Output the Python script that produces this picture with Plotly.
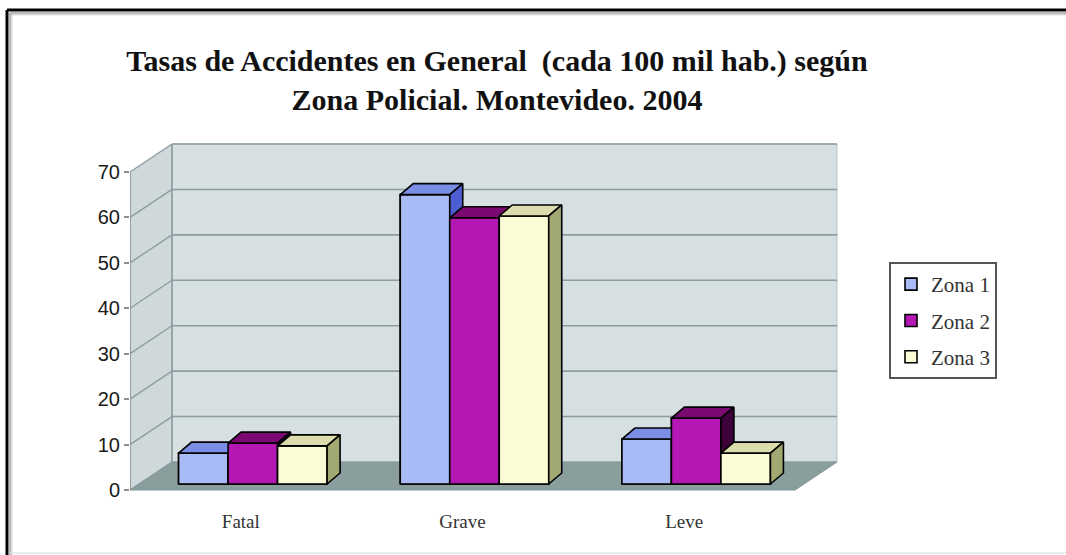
import plotly.graph_objects as go

# ---------------- data ----------------
CATEGORIES = ["Fatal", "Grave", "Leve"]
SERIES = ["Zona 1", "Zona 2", "Zona 3"]
ZONA_1 = [6.8, 63.7, 9.9]
ZONA_2 = [9.0, 58.6, 14.5]
ZONA_3 = [8.4, 59.0, 6.8]
Y_TICKS = [0, 10, 20, 30, 40, 50, 60, 70]
TITLE = "Tasas de Accidentes en General  (cada 100 mil hab.) según<br>Zona Policial. Montevideo. 2004"

VALUES = [ZONA_1, ZONA_2, ZONA_3]

# ---------------- style ----------------
W, H = 1066, 555
FRONT = ["#a9bbf6", "#b417b4", "#fbfbd6"]
TOP = ["#7a8ee6", "#7a0a72", "#dcdcac"]
SIDE = ["#4c5ed2", "#3e0038", "#a2a872"]

AX_LEFT, AX_RIGHT, AX_TOP, AX_BOTTOM = 130, 840, 138, 500   # pixel box of the axes
Y0_PX = 490                      # pixel row of value 0 on the front plane
PX_PER_V = 318.0 / 70.0          # pixels per value unit
PX_PER_U = 665.0 / 3.0           # pixels per category

FDX, FDY = 42 / PX_PER_U, 28 / PX_PER_V          # depth of floor / walls
BAR_OFF = 12 / PX_PER_U                            # bar group offset (depth)
BAR_BASE = 6 / PX_PER_V
BAR_W = 49.5 / PX_PER_U
BDX, BDY = 13 / PX_PER_U, 11 / PX_PER_V           # depth of each bar

x_range = [(AX_LEFT - 130) / PX_PER_U, (AX_RIGHT - 130) / PX_PER_U]
y_range = [(Y0_PX - AX_BOTTOM) / PX_PER_V, (Y0_PX - AX_TOP) / PX_PER_V]
N = len(CATEGORIES)
VMAX = Y_TICKS[-1]


def px(x):
    return x / W


def py(y):
    return (H - y) / H


def path(pts):
    return "M " + " L ".join(f"{a},{b}" for a, b in pts) + " Z"


fig = go.Figure()

# real bar traces (front faces, also used for the legend)
for j, name in enumerate(SERIES):
    fig.add_trace(go.Bar(
        x=[i + 0.5 + BAR_OFF for i in range(N)],
        y=VALUES[j],
        base=BAR_BASE,
        width=BAR_W,
        offset=(j - 1.5) * BAR_W,
        name=name,
        legendgroup=name,
        marker=dict(color=FRONT[j], line=dict(color="#000000", width=1.6)),
    ))

# 3-D faces drawn in painter's order
for i in range(N):
    for j in range(len(SERIES)):
        v = VALUES[j][i]
        L = i + 0.5 + BAR_OFF + (j - 1.5) * BAR_W
        R = L + BAR_W
        b = BAR_BASE
        t = BAR_BASE + v
        faces = [
            ([L, R, R, L, L], [b, b, t, t, b], FRONT[j]),
            ([L, R, R + BDX, L + BDX, L], [t, t, t + BDY, t + BDY, t], TOP[j]),
            ([R, R + BDX, R + BDX, R, R], [b, b + BDY, t + BDY, t, b], SIDE[j]),
        ]
        for xs, ys, col in faces:
            fig.add_trace(go.Scatter(
                x=xs, y=ys, mode="lines", fill="toself", fillcolor=col,
                line=dict(color="#000000", width=1.6),
                showlegend=False, hoverinfo="skip",
            ))

shapes = []
# side wall, back wall, floor
shapes.append(dict(type="path", xref="x", yref="y", layer="below",
                   path=path([(0, 0), (FDX, FDY), (FDX, VMAX + FDY), (0, VMAX)]),
                   fillcolor="#cfd9db", line=dict(width=0)))
shapes.append(dict(type="path", xref="x", yref="y", layer="below",
                   path=path([(FDX, FDY), (N + FDX, FDY), (N + FDX, VMAX + FDY), (FDX, VMAX + FDY)]),
                   fillcolor="#d6dfe1", line=dict(color="#b8c2c4", width=1)))
shapes.append(dict(type="path", xref="x", yref="y", layer="below",
                   path=path([(0, 0), (N, 0), (N + FDX, FDY), (FDX, FDY)]),
                   fillcolor="#8a9e9e", line=dict(color="#7f9495", width=1)))
# gridlines
GRID = "#8d9c9e"
for v in Y_TICKS[1:]:
    shapes.append(dict(type="line", xref="x", yref="y", layer="below",
                       x0=FDX, y0=v + FDY, x1=N + FDX, y1=v + FDY,
                       line=dict(color=GRID, width=1.6)))
for v in Y_TICKS:
    shapes.append(dict(type="line", xref="x", yref="y", layer="below",
                       x0=0, y0=v, x1=FDX, y1=v + FDY,
                       line=dict(color=GRID, width=1.4)))
shapes.append(dict(type="line", xref="x", yref="y", layer="below",
                   x0=FDX, y0=FDY, x1=FDX, y1=VMAX + FDY,
                   line=dict(color=GRID, width=1.6)))
shapes.append(dict(type="line", xref="x", yref="y", layer="below",
                   x0=0, y0=0, x1=0, y1=VMAX,
                   line=dict(color="#8a8f90", width=1.6)))

# outer frame
shapes.append(dict(type="line", xref="paper", yref="paper",
                   x0=px(7), y0=py(10), x1=px(1070), y1=py(10),
                   line=dict(color="#000000", width=3)))
shapes.append(dict(type="line", xref="paper", yref="paper",
                   x0=px(7), y0=py(10), x1=px(7), y1=py(560),
                   line=dict(color="#000000", width=3)))
for k, c in enumerate(["#7a7a7a", "#b0b0b0", "#dedede"]):
    shapes.append(dict(type="line", xref="paper", yref="paper",
                       x0=px(10 + k), y0=py(13 + k), x1=px(1070), y1=py(13 + k),
                       line=dict(color=c, width=1)))
    shapes.append(dict(type="line", xref="paper", yref="paper",
                       x0=px(10 + k), y0=py(13 + k), x1=px(10 + k), y1=py(560),
                       line=dict(color=c, width=1)))
shapes.append(dict(type="line", xref="paper", yref="paper",
                   x0=px(9), y0=py(553), x1=px(1070), y1=py(553),
                   line=dict(color="#d8d8d8", width=1)))

fig.update_layout(
    width=W, height=H,
    margin=dict(l=0, r=0, t=0, b=0),
    paper_bgcolor="#ffffff",
    plot_bgcolor="rgba(0,0,0,0)",
    barmode="overlay",
    shapes=shapes,
    title=dict(
        text=f"<b>{TITLE}</b>",
        x=px(497), xanchor="center",
        y=py(71), yanchor="top",
        font=dict(family="Liberation Serif", size=30, color="#111111"),
    ),
    xaxis=dict(
        domain=[px(AX_LEFT), px(AX_RIGHT)],
        range=x_range,
        tickvals=[i + 0.5 for i in range(N)],
        ticktext=CATEGORIES,
        ticks="outside", ticklen=4, tickcolor="rgba(0,0,0,0)",
        showgrid=False, zeroline=False, showline=False,
        tickfont=dict(family="Liberation Serif", size=19, color="#333333"),
    ),
    yaxis=dict(
        domain=[py(AX_BOTTOM), py(AX_TOP)],
        range=y_range,
        tickvals=Y_TICKS,
        ticks="outside", ticklen=5, tickcolor="#8a8f90", tickwidth=1.5,
        showgrid=False, zeroline=False, showline=False,
        tickfont=dict(family="Liberation Sans", size=20, color="#1a1a1a"),
    ),
    legend=dict(
        x=px(889), y=py(262), xanchor="left", yanchor="top",
        bordercolor="#555555", borderwidth=2, bgcolor="#ffffff",
        font=dict(family="Liberation Serif", size=21, color="#333333"),
        tracegroupgap=6,
        itemwidth=30,
    ),
    showlegend=True,
)

fig.write_html("out.html", config={"displayModeBar": False},
               post_script="document.body.style.margin='0';")
